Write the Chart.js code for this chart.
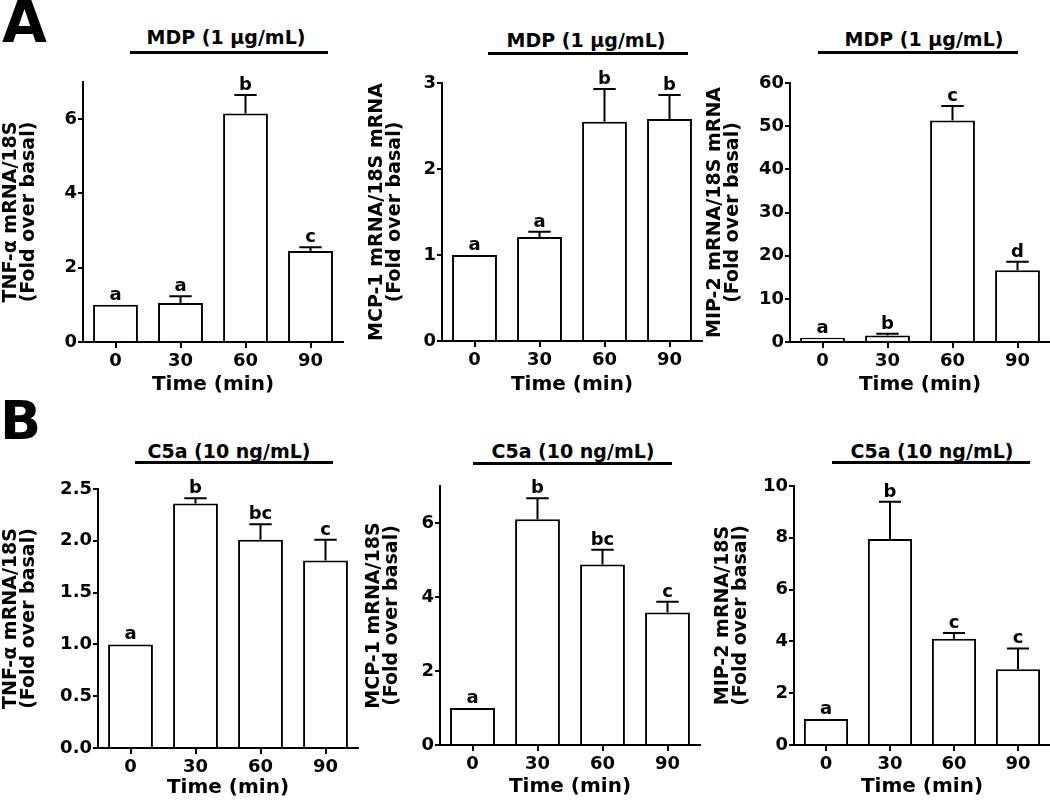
<!DOCTYPE html>
<html>
<head>
<meta charset="utf-8">
<script src="https://cdn.jsdelivr.net/npm/chart.js@4.4.1/dist/chart.umd.min.js"></script>
<style>
  body { margin: 0; background: #fff; width: 1050px; height: 804px; position: relative; overflow: hidden; }
  canvas { position: absolute; }
  .hdr { position: absolute; font: bold 19px "DejaVu Sans"; line-height: 1; white-space: nowrap; transform: translate(-50%, -50%); color: #000; }
  .bar { position: absolute; height: 3px; background: #000; }
  .panel { position: absolute; font: bold 58px "DejaVu Sans"; line-height: 1; color: #000; }
</style>
</head>
<body>
<div class="panel" style="left:2px; top:-7px;">A</div>
<div class="panel" style="left:0px; top:394px; font-size:54px;">B</div>
<div id="headers"></div>
<canvas id="a1"></canvas>
<canvas id="a2"></canvas>
<canvas id="a3"></canvas>
<canvas id="b1"></canvas>
<canvas id="b2"></canvas>
<canvas id="b3"></canvas>
<script>
// Datos (x = tiempo en min)
const timeLabels = ['0', '30', '60', '90'];

// A: MDP (1 µg/mL)
const tnfMdp = [1.0, 1.05, 6.15, 2.45];
const tnfMdpErr = [0, 0.18, 0.5, 0.1];
const tnfMdpLetters = ['a', 'a', 'b', 'c'];
const tnfMdpTicks = [0, 2, 4, 6];

const mcpMdp = [1.0, 1.21, 2.55, 2.58];
const mcpMdpErr = [0, 0.06, 0.38, 0.28];
const mcpMdpLetters = ['a', 'a', 'b', 'b'];
const mcpMdpTicks = [0, 1, 2, 3];

const mipMdp = [1.0, 1.5, 51.3, 16.6];
const mipMdpErr = [0, 0.4, 3.4, 2.0];
const mipMdpLetters = ['a', 'b', 'c', 'd'];
const mipMdpTicks = [0, 10, 20, 30, 40, 50, 60];

// B: C5a (10 ng/mL)
const tnfC5a = [1.0, 2.36, 2.01, 1.81];
const tnfC5aErr = [0, 0.05, 0.15, 0.2];
const tnfC5aLetters = ['a', 'b', 'bc', 'c'];
const tnfC5aTicks = [0, 0.5, 1.0, 1.5, 2.0, 2.5];

const mcpC5a = [1.0, 6.1, 4.88, 3.58];
const mcpC5aErr = [0, 0.57, 0.4, 0.29];
const mcpC5aLetters = ['a', 'b', 'bc', 'c'];
const mcpC5aTicks = [0, 2, 4, 6];

const mipC5a = [1.0, 7.95, 4.1, 2.92];
const mipC5aErr = [0, 1.44, 0.22, 0.81];
const mipC5aLetters = ['a', 'b', 'c', 'c'];
const mipC5aTicks = [0, 2, 4, 6, 8, 10];

const mdpText = 'MDP (1 µg/mL)';
const c5aText = 'C5a (10 ng/mL)';

Chart.defaults.font.family = '"DejaVu Sans"';
Chart.defaults.font.weight = 'bold';
Chart.defaults.color = '#000';

// barras de error + letras encima
const errorBarPlugin = {
    id: 'errorBars',
    afterDatasetsDraw(chart, args, opts) {
        const ctx = chart.ctx;
        const meta = chart.getDatasetMeta(0);
        const yScale = chart.scales.y;
        ctx.save();
        ctx.strokeStyle = '#000';
        ctx.fillStyle = '#000';
        ctx.lineWidth = 2;
        ctx.font = 'bold 18px "DejaVu Sans"';
        ctx.textAlign = 'center';
        ctx.textBaseline = 'alphabetic';
        meta.data.forEach((bar, i) => {
            let top = bar.y;
            if (opts.errors[i] > 0) {
                const yTop = yScale.getPixelForValue(opts.values[i] + opts.errors[i]);
                ctx.beginPath();
                ctx.moveTo(bar.x, bar.y);
                ctx.lineTo(bar.x, yTop);
                ctx.moveTo(bar.x - bar.width / 4, yTop);
                ctx.lineTo(bar.x + bar.width / 4, yTop);
                ctx.stroke();
                top = yTop;
            }
            ctx.fillText(opts.letters[i], bar.x, top - 5);
        });
        ctx.restore();
    }
};

function makeChart(id, box, values, errors, letters, ticks, max, yTitle, decimals) {
    const canvas = document.getElementById(id);
    canvas.width = box.w;
    canvas.height = box.h;
    canvas.style.left = box.x + 'px';
    canvas.style.top = box.y + 'px';
    const xh = box.titleY + 14 - box.B;
    return new Chart(canvas, {
        type: 'bar',
        data: {
            labels: timeLabels,
            datasets: [{
                data: values,
                backgroundColor: '#fff',
                borderColor: '#000',
                borderWidth: 2,
                barPercentage: 0.69,
                categoryPercentage: 1
            }]
        },
        options: {
            responsive: false,
            animation: false,
            devicePixelRatio: 1,
            layout: {
                padding: {
                    left: box.yLeft - box.x,
                    top: box.T - box.y,
                    right: box.x + box.w - box.R,
                    bottom: box.y + box.h - box.B - xh
                }
            },
            plugins: {
                legend: { display: false },
                tooltip: { enabled: false },
                errorBars: { values: values, errors: errors, letters: letters }
            },
            scales: {
                x: {
                    offset: true,
                    grid: { offset: false, drawOnChartArea: false, drawTicks: true, tickLength: 6, color: '#000', lineWidth: 2 },
                    border: { color: '#000', width: 2 },
                    ticks: { color: '#000', font: { size: 18, weight: 'bold' }, padding: 3, maxRotation: 0 },
                    title: { display: true, text: 'Time (min)', color: '#000', font: { size: 20, weight: 'bold', lineHeight: 1.2 }, padding: { top: 0, bottom: 2 } },
                    afterFit: s => { s.height = xh; }
                },
                y: {
                    min: 0,
                    max: max,
                    afterBuildTicks: s => { s.ticks = ticks.map(v => ({ value: v })); },
                    grid: { drawOnChartArea: false, drawTicks: true, tickLength: 5, color: '#000', lineWidth: 2 },
                    border: { color: '#000', width: 2 },
                    ticks: { color: '#000', font: { size: 18, weight: 'bold' }, padding: 1, callback: v => Number(v).toFixed(decimals) },
                    title: { display: true, text: yTitle, color: '#000', font: { size: 19, weight: 'bold', lineHeight: 0.95 }, padding: { top: 2, bottom: 0 } },
                    afterFit: s => { s.width = box.L - box.yLeft; }
                }
            }
        },
        plugins: [errorBarPlugin]
    });
}

makeChart('a1', { x: 0, y: 40, w: 360, h: 360, yLeft: 0, L: 83, R: 343, T: 82, B: 342, titleY: 385 },
    tnfMdp, tnfMdpErr, tnfMdpLetters, tnfMdpTicks, 7, ['TNF-α mRNA/18S', '(Fold over basal)'], 0);
makeChart('a2', { x: 350, y: 40, w: 355, h: 360, yLeft: 366, L: 442, R: 702, T: 83, B: 341, titleY: 385 },
    mcpMdp, mcpMdpErr, mcpMdpLetters, mcpMdpTicks, 3, ['MCP-1 mRNA/18S mRNA', '(Fold over basal)'], 0);
makeChart('a3', { x: 700, y: 40, w: 350, h: 360, yLeft: 704, L: 790, R: 1050, T: 83, B: 342, titleY: 385 },
    mipMdp, mipMdpErr, mipMdpLetters, mipMdpTicks, 60, ['MIP-2 mRNA/18S mRNA', '(Fold over basal)'], 0);
makeChart('b1', { x: 0, y: 440, w: 360, h: 364, yLeft: 0, L: 98, R: 358, T: 489, B: 748, titleY: 788 },
    tnfC5a, tnfC5aErr, tnfC5aLetters, tnfC5aTicks, 2.5, ['TNF-α mRNA/18S', '(Fold over basal)'], 1);
makeChart('b2', { x: 350, y: 440, w: 355, h: 364, yLeft: 363, L: 440, R: 700, T: 486, B: 745, titleY: 787 },
    mcpC5a, mcpC5aErr, mcpC5aLetters, mcpC5aTicks, 7, ['MCP-1 mRNA/18S', '(Fold over basal)'], 0);
makeChart('b3', { x: 700, y: 440, w: 350, h: 364, yLeft: 712, L: 794, R: 1050, T: 486, B: 745, titleY: 787 },
    mipC5a, mipC5aErr, mipC5aLetters, mipC5aTicks, 10, ['MIP-2 mRNA/18S', '(Fold over basal)'], 0);

// rótulos de tratamiento sobre cada panel
const headers = [
    { text: mdpText, cx: 226, ty: 37, x1: 130, x2: 328, ly: 51 },
    { text: mdpText, cx: 586, ty: 40, x1: 488, x2: 688, ly: 52 },
    { text: mdpText, cx: 924, ty: 39, x1: 818, x2: 1018, ly: 51 },
    { text: c5aText, cx: 229, ty: 451, x1: 135, x2: 333, ly: 461 },
    { text: c5aText, cx: 573, ty: 451, x1: 473, x2: 672, ly: 462 },
    { text: c5aText, cx: 932, ty: 451, x1: 832, x2: 1030, ly: 461 }
];
const hdrBox = document.getElementById('headers');
headers.forEach(h => {
    const t = document.createElement('div');
    t.className = 'hdr';
    t.style.left = h.cx + 'px';
    t.style.top = h.ty + 'px';
    t.textContent = h.text;
    hdrBox.appendChild(t);
    const l = document.createElement('div');
    l.className = 'bar';
    l.style.left = h.x1 + 'px';
    l.style.top = h.ly + 'px';
    l.style.width = (h.x2 - h.x1) + 'px';
    hdrBox.appendChild(l);
});
</script>
</body>
</html>
